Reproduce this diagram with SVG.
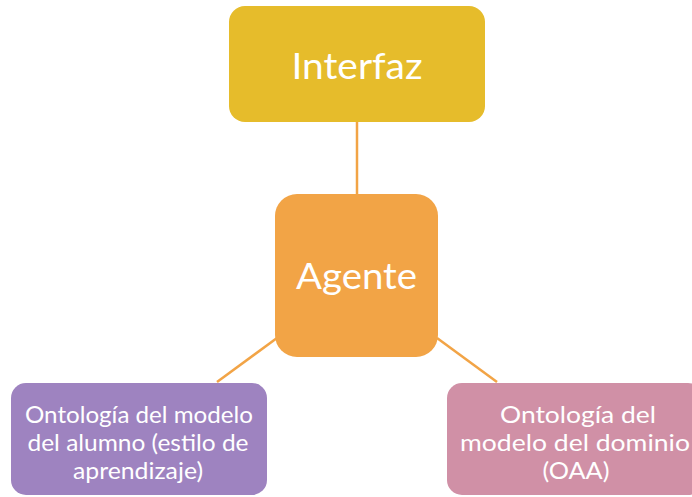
<svg xmlns="http://www.w3.org/2000/svg" width="692" height="497" viewBox="0 0 692 497">
<style>
.t{font-family:Lato,"Open Sans","Liberation Sans",sans-serif;fill:#fff;text-anchor:middle}
.big{font-size:37px}
.sm{font-size:23px}
.ln{stroke:#F2A446;stroke-width:2.5;fill:none}
</style>
<rect width="692" height="497" fill="#fff"/>
<g id="connectors">
<line class="ln" x1="357" y1="122" x2="357" y2="194"/>
<line class="ln" x1="277" y1="338" x2="217" y2="382"/>
<line class="ln" x1="437" y1="338" x2="497" y2="382"/>
</g>
<g id="interfaz">
<rect x="229" y="6" width="256" height="116" rx="16" fill="#E6BC2B"/>
<text class="t big" x="357" y="79" textLength="131" lengthAdjust="spacingAndGlyphs">Interfaz</text>
</g>
<g id="agente">
<rect x="275" y="194" width="163" height="163" rx="22" fill="#F2A446"/>
<text class="t big" x="356.5" y="289" textLength="121" lengthAdjust="spacingAndGlyphs">Agente</text>
</g>
<g id="alumno">
<rect x="11" y="383" width="256" height="112" rx="15" fill="#9E83C0"/>
<text class="t sm" x="139" y="423" textLength="228" lengthAdjust="spacingAndGlyphs">Ontología del modelo</text>
<text class="t sm" x="138" y="451" textLength="221" lengthAdjust="spacingAndGlyphs">del alumno (estilo de</text>
<text class="t sm" x="138" y="479" textLength="130" lengthAdjust="spacingAndGlyphs">aprendizaje)</text>
</g>
<g id="dominio">
<rect x="447" y="383" width="256" height="112" rx="15" fill="#D090A6"/>
<text class="t sm" x="578" y="423" textLength="156" lengthAdjust="spacingAndGlyphs">Ontología del</text>
<text class="t sm" x="575" y="451" textLength="230" lengthAdjust="spacingAndGlyphs">modelo del dominio</text>
<text class="t sm" x="576" y="479" textLength="67" lengthAdjust="spacingAndGlyphs">(OAA)</text>
</g>
</svg>
